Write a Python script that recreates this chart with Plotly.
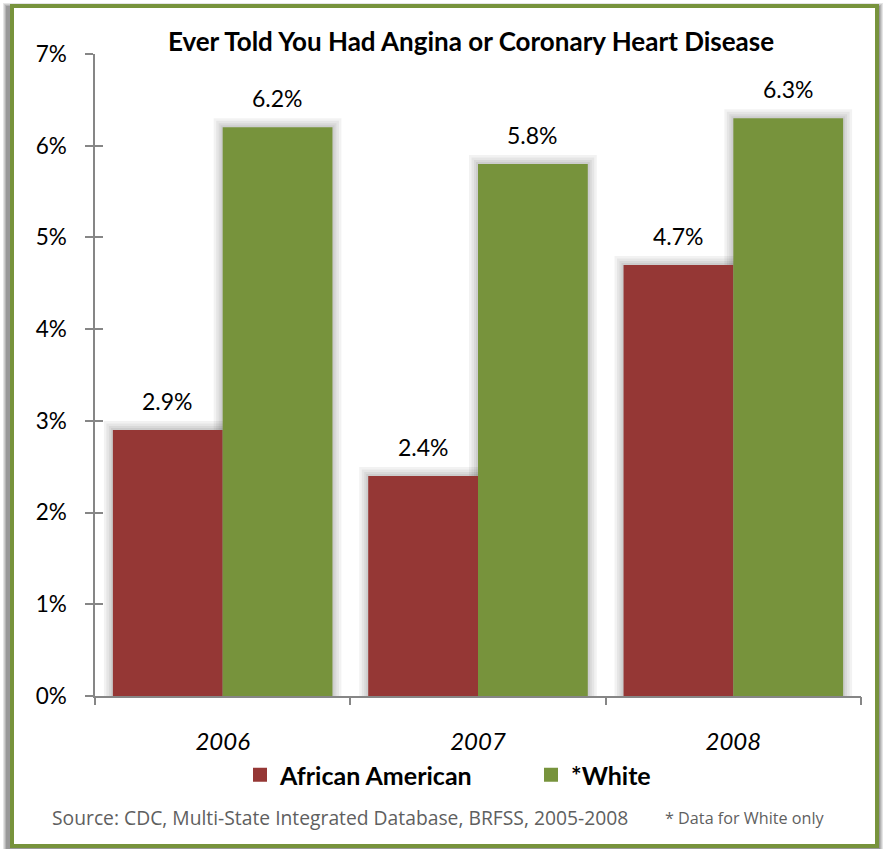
import plotly.graph_objects as go

# Survey years and prevalence (%) by group
years = ["2006", "2007", "2008"]
african_american = [2.9, 2.4, 4.7]
white = [6.2, 5.8, 6.3]
y_ticks = [0, 1, 2, 3, 4, 5, 6, 7]

title_text = "Ever Told You Had Angina or Coronary Heart Disease"
source_text = "Source: CDC, Multi-State Integrated Database, BRFSS, 2005-2008"
note_text = "* Data for White only"

RED = "#953735"
GREEN = "#77933C"
AXIS = "#868686"
FONT = "Lato, 'Open Sans', sans-serif"
SRC_FONT = "'Open Sans', 'Noto Sans', sans-serif"

W, H = 884, 849
ML, MR, MT, MB = 95, 23, 54, 153
PW, PH = W - ML - MR, H - MT - MB

BAR_W = 0.43
pos = list(range(len(years)))
bounds = [p - 0.5 for p in pos] + [pos[-1] + 0.5]


def px(x):
    return (x - ML) / PW


def py(y):
    return (H - MB - y) / PH


fig = go.Figure()

# soft drop shadow behind every bar: stacked translucent outlines
for lw in (18, 13, 8, 4):
    for vals, off in ((african_american, -BAR_W), (white, 0.0)):
        fig.add_trace(go.Bar(
            x=pos, y=vals, width=BAR_W, offset=off,
            marker=dict(color="rgba(0,0,0,0)",
                        line=dict(color="rgba(0,0,0,0.05)", width=lw)),
            showlegend=False, hoverinfo="skip",
        ))

series = (("African American", african_american, RED, -BAR_W),
          ("*White", white, GREEN, 0.0))

for name, vals, color, off in series:
    fig.add_trace(go.Bar(
        x=pos, y=vals, width=BAR_W, offset=off, name=name,
        marker=dict(color=color, line=dict(width=0)),
        hoverinfo="y", showlegend=False,
    ))

# legend keys drawn as square swatches
for name, vals, color, off in series:
    fig.add_trace(go.Scatter(
        x=[None], y=[None], mode="markers", name=name,
        marker=dict(symbol="square", size=14, color=color),
    ))

# value labels above the bars
for vals, dx in ((african_american, -BAR_W / 2), (white, BAR_W / 2)):
    for p, v in zip(pos, vals):
        fig.add_annotation(
            x=p + dx, y=v, xref="x", yref="y", text=f"{v:.1f}%",
            yshift=13, yanchor="bottom", showarrow=False,
            font=dict(family=FONT, size=23, color="#000000"),
        )

# boundary ticks along the category axis
fig.add_trace(go.Scatter(x=bounds, y=[0] * len(bounds), xaxis="x2", mode="markers",
                         marker=dict(opacity=0), showlegend=False, hoverinfo="skip"))
# mirrored y ticks
fig.add_trace(go.Scatter(x=[pos[0]], y=[0], yaxis="y2", mode="markers",
                         marker=dict(opacity=0), showlegend=False, hoverinfo="skip"))

# outer frame with a grey shadow
shapes = []
for i, op in enumerate((0.10, 0.10, 0.12, 0.15)):
    d = 4 - i
    shapes.append(dict(
        type="rect", xref="paper", yref="paper", layer="below",
        x0=px(10 - d - 3), x1=px(879 + d), y0=py(849 + d), y1=py(4 - d + 3),
        line=dict(width=0), fillcolor=f"rgba(0,0,0,{op})",
    ))
shapes.append(dict(
    type="rect", xref="paper", yref="paper", layer="below",
    x0=px(12), x1=px(877), y0=py(846), y1=py(6),
    line=dict(color=GREEN, width=4), fillcolor="#ffffff",
))

fig.add_annotation(
    xref="paper", yref="paper", x=px(50), y=py(818), xanchor="left", yanchor="middle",
    text=source_text, showarrow=False,
    font=dict(family=SRC_FONT, size=19.3, color="#5f5f5f"),
)
fig.add_annotation(
    xref="paper", yref="paper", x=px(663), y=py(818), xanchor="left", yanchor="middle",
    text=note_text, showarrow=False,
    font=dict(family=SRC_FONT, size=16.2, color="#5f5f5f"),
)

fig.update_layout(
    width=W, height=H,
    margin=dict(l=ML, r=MR, t=MT, b=MB, pad=0),
    paper_bgcolor="#ffffff", plot_bgcolor="rgba(0,0,0,0)",
    barmode="overlay",
    shapes=shapes,
    title=dict(
        text=f"<b>{title_text}</b>", x=471 / W, xanchor="center",
        y=1 - 42 / H, yanchor="middle",
        font=dict(family=FONT, size=26, color="#000000"),
    ),
    font=dict(family=FONT, color="#000000"),
    xaxis=dict(
        range=[bounds[0], bounds[-1]], tickvals=pos, ticktext=years,
        showline=True, linecolor=AXIS, linewidth=1.5, ticks="",
        tickfont=dict(family=FONT, size=24, style="italic", color="#000000"),
        ticklabelstandoff=23,
        showgrid=False, zeroline=False,
    ),
    xaxis2=dict(
        overlaying="x", matches="x", range=[bounds[0], bounds[-1]], tickvals=bounds,
        side="bottom", anchor="y", showticklabels=False,
        ticks="outside", ticklen=8, tickcolor=AXIS, tickwidth=1.5,
        showline=False, showgrid=False, zeroline=False,
    ),
    yaxis=dict(
        range=[0, 7], tickvals=y_ticks, ticktext=[f"{t}%" for t in y_ticks],
        showline=True, linecolor=AXIS, linewidth=1.5,
        ticks="outside", ticklen=8, tickcolor=AXIS, tickwidth=1.5,
        tickfont=dict(family=FONT, size=22.5, color="#000000"),
        ticklabelstandoff=14,
        showgrid=False, zeroline=False,
    ),
    yaxis2=dict(
        overlaying="y", matches="y", range=[0, 7], tickvals=y_ticks, showticklabels=False,
        ticks="inside", ticklen=8, tickcolor=AXIS, tickwidth=1.5,
        showline=False, showgrid=False, zeroline=False,
    ),
    legend=dict(
        orientation="h", x=px(240), xanchor="left", y=py(775), yanchor="middle",
        font=dict(family=FONT, size=25, weight="bold", color="#000000"),
        itemwidth=30, entrywidth=246, entrywidthmode="pixels",
        bgcolor="rgba(0,0,0,0)", traceorder="normal",
    ),
    showlegend=True,
)

fig.write_html("out.html")
